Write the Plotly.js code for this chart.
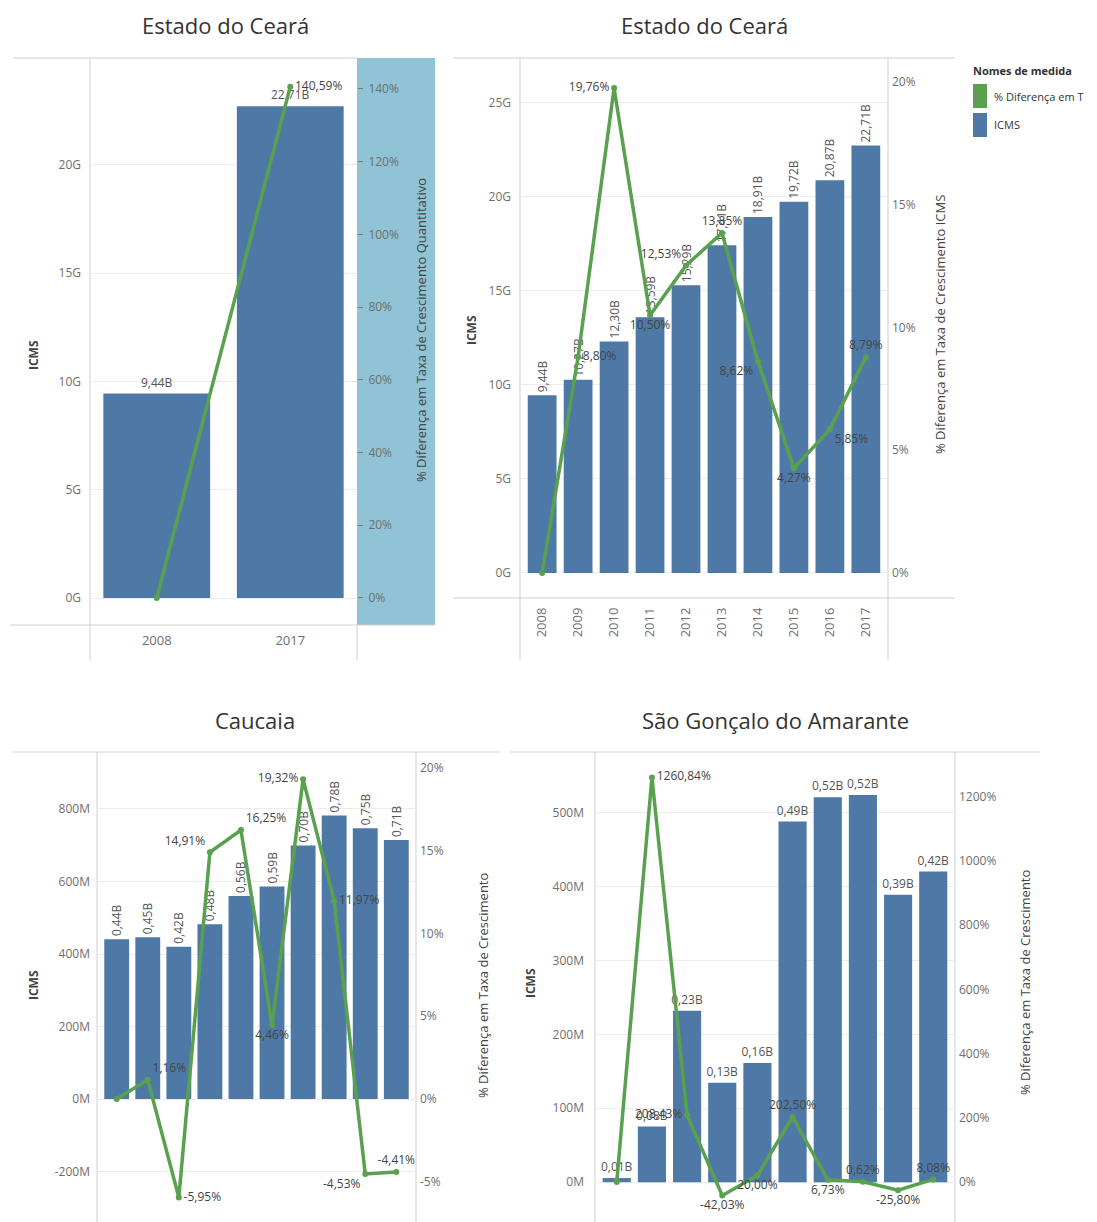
<!DOCTYPE html>
<html><head><meta charset="utf-8">
<script src="https://cdn.plot.ly/plotly-3.0.1.min.js"></script>
<style>html,body{margin:0;padding:0;background:#fff}#chart{width:1097px;height:1222px}</style>
</head><body><div id="chart"></div>
<script>
// ---------- DATA ----------
const yearsA = ['2008', '2017'];
const icmsCearaA = [9.44, 22.71];            // G
const difCearaA = [0, 140.59];               // %

const years = ['2008','2009','2010','2011','2012','2013','2014','2015','2016','2017'];
const icmsCeara = [9.44, 10.27, 12.30, 13.59, 15.29, 17.41, 18.91, 19.72, 20.87, 22.71]; // G
const difCeara = [0, 8.80, 19.76, 10.50, 12.53, 13.85, 8.62, 4.27, 5.85, 8.79];          // %

const icmsCaucaia = [441, 446, 420, 482, 560, 586, 699, 782, 747, 714];                   // M
const difCaucaia = [0, 1.16, -5.95, 14.91, 16.25, 4.46, 19.32, 11.97, -4.53, -4.41];       // %

const icmsSGA = [5.5, 75.2, 232, 134.5, 161.4, 488.3, 521.1, 524.4, 389.1, 420.5];        // M
const difSGA = [0, 1260.84, 208.43, -42.03, 20.00, 202.50, 6.73, 0.62, -25.80, 8.08];      // %

const ticksG1 = [0, 5, 10, 15, 20];
const ticksPct1 = [0, 20, 40, 60, 80, 100, 120, 140];
const ticksG2 = [0, 5, 10, 15, 20, 25];
const ticksPct2 = [0, 5, 10, 15, 20];
const ticksM3 = [-200, 0, 200, 400, 600, 800];
const ticksPct3 = [-5, 0, 5, 10, 15, 20];
const ticksM4 = [0, 100, 200, 300, 400, 500];
const ticksPct4 = [0, 200, 400, 600, 800, 1000, 1200];

const titleA = 'Estado do Ceará';
const titleB = 'Estado do Ceará';
const titleC = 'Caucaia';
const titleD = 'São Gonçalo do Amarante';
const legendTitle = 'Nomes de medida';
const legendItems = ['% Diferença em T', 'ICMS'];

// ---------- HELPERS ----------
const W = 1097, H = 1222;
const px = x => x / W;
const py = y => 1 - y / H;
const fmt = v => v.toFixed(2).replace('.', ',');
const BLUE = '#4e79a7', GREEN = '#59a14f';
const FONT = 'Open Sans, Noto Sans, sans-serif';
const tickFont = {family: FONT, size: 12, color: '#6e6e6e'};
const lblFont = {family: FONT, size: 12, color: '#444'};
const pctText = arr => arr.map((v, i) => i === 0 ? '' : fmt(v) + '%');

function barTrace(x, y, text, xa, ya, angle) {
  return {type: 'bar', x, y, text, xaxis: xa, yaxis: ya, marker: {color: BLUE},
    textposition: 'outside', textangle: angle, constraintext: 'none', cliponaxis: false,
    textfont: {family: FONT, size: 12, color: '#555'}, showlegend: false, hoverinfo: 'skip'};
}
function lineTrace(x, y, pos, xa, ya) {
  return {type: 'scatter', mode: 'lines+markers+text', x, y, text: pctText(y), textposition: pos,
    xaxis: xa, yaxis: ya, line: {color: GREEN, width: 3.5}, marker: {color: GREEN, size: 6},
    textfont: lblFont, cliponaxis: false, showlegend: false, hoverinfo: 'skip'};
}

const traces = [
  barTrace(yearsA, icmsCearaA, icmsCearaA.map(v => fmt(v) + 'B'), 'x', 'y', 0),
  lineTrace(yearsA, difCearaA, ['middle right', 'middle right'], 'x', 'y2'),
  barTrace(years, icmsCeara, icmsCeara.map(v => fmt(v) + 'B'), 'x2', 'y3', -90),
  lineTrace(years, difCeara, ['top center','middle right','middle left','bottom center','top left','top center','bottom left','bottom center','bottom right','top center'], 'x2', 'y4'),
  barTrace(years, icmsCaucaia, icmsCaucaia.map(v => fmt(v / 1000) + 'B'), 'x3', 'y5', -90),
  lineTrace(years, difCaucaia, ['top center','top right','middle right','top left','top right','bottom center','middle left','middle right','bottom left','top center'], 'x3', 'y6'),
  barTrace(years, icmsSGA, icmsSGA.map(v => fmt(v / 1000) + 'B'), 'x4', 'y7', 0),
  lineTrace(years, difSGA, ['top center','middle right','middle left','bottom center','bottom center','top center','bottom center','top center','bottom center','top center'], 'x4', 'y8')
];

function xax(d, anchor, showlabels, angle) {
  return {domain: [px(d[0]), px(d[1])], anchor, type: 'category', showgrid: false, zeroline: false,
    showline: false, ticks: '', showticklabels: showlabels, tickangle: angle, tickfont: {family: FONT, size: 13, color: '#6e6e6e'},
    ticklabelstandoff: 6, fixedrange: true};
}
function yleft(d, anchor, range, vals, suffix, gap) {
  return {domain: [py(d[1]), py(d[0])], anchor, range, tickvals: vals, ticktext: vals.map(v => v + suffix),
    showgrid: true, gridcolor: '#ececec', zeroline: false, showline: false, ticks: '', tickfont: tickFont,
    ticklabelstandoff: gap, fixedrange: true};
}
function yright(over, anchor, range, vals, ticks) {
  return {overlaying: over, side: 'right', anchor, range, tickvals: vals, ticktext: vals.map(v => v + '%'),
    showgrid: false, zeroline: false, showline: false, ticks: ticks ? 'outside' : '', ticklen: 5, tickcolor: '#777',
    tickfont: tickFont, ticklabelstandoff: 3, fixedrange: true};
}

const layout = {
  width: W, height: H, margin: {l: 0, r: 0, t: 0, b: 0}, paper_bgcolor: '#fff', plot_bgcolor: 'rgba(0,0,0,0)',
  showlegend: false, bargap: 0.2,
  xaxis: xax([90, 357], 'y', true, 0),
  yaxis: yleft([58, 625], 'x', [-1.247, 24.94], ticksG1, 'G', 8),
  yaxis2: yright('y', 'x', [-7.43, 148.5], ticksPct1, true),
  xaxis2: xax([520, 888], 'y3', true, -90),
  yaxis3: yleft([58, 598], 'x2', [-1.33, 27.36], ticksG2, 'G', 8),
  yaxis4: yright('y3', 'x2', [-1.02, 20.98], ticksPct2, false),
  xaxis3: xax([97, 416], 'y5', false, 0),
  yaxis5: yleft([752, 1222], 'x3', [-339, 957], ticksM3, 'M', 6),
  yaxis6: yright('y5', 'x3', [-7.43, 20.97], ticksPct3, false),
  xaxis4: xax([595, 955], 'y7', false, 0),
  yaxis7: yleft([752, 1222], 'x4', [-54, 582.5], ticksM4, 'M', 10),
  yaxis8: yright('y7', 'x4', [-124.7, 1340], ticksPct4, false),
  shapes: [],
  annotations: []
};

const lineCol = '#cfcfcf';
function hl(x0, x1, y) { layout.shapes.push({type: 'line', xref: 'paper', yref: 'paper', x0: px(x0), x1: px(x1), y0: py(y), y1: py(y), line: {color: lineCol, width: 1}, layer: 'below'}); }
function vl(x, y0, y1) { layout.shapes.push({type: 'line', xref: 'paper', yref: 'paper', x0: px(x), x1: px(x), y0: py(y0), y1: py(y1), line: {color: lineCol, width: 1}, layer: 'below'}); }

// band behind right axis of first panel
layout.shapes.push({type: 'rect', xref: 'paper', yref: 'paper', x0: px(357), x1: px(435), y0: py(625), y1: py(58), fillcolor: '#8fc3d5', line: {width: 0}, layer: 'below'});
hl(13, 357, 58); hl(10, 435, 625); vl(90, 58, 660); vl(357, 625, 660);
hl(453, 955, 58); hl(453, 955, 598); vl(520, 58, 660); vl(888, 58, 660);
hl(13, 500, 752); vl(97, 752, 1222); vl(416, 752, 1222);
hl(510, 1040, 752); vl(595, 752, 1222); vl(955, 752, 1222);

function ann(text, x, y, size, color, angle, opts) {
  layout.annotations.push(Object.assign({text, xref: 'paper', yref: 'paper', x: px(x), y: py(y), showarrow: false,
    xanchor: 'center', yanchor: 'middle', textangle: angle || 0, font: {family: FONT, size, color}}, opts || {}));
}
ann(titleA, 225, 25, 22, '#333');
ann(titleB, 705, 25, 22, '#333');
ann(titleC, 255, 720, 22, '#333');
ann(titleD, 775, 720, 22, '#333');
ann('<b>ICMS</b>', 33, 355, 12, '#444', -90);
ann('<b>ICMS</b>', 472, 330, 12, '#444', -90);
ann('<b>ICMS</b>', 33, 985, 12, '#444', -90);
ann('<b>ICMS</b>', 530, 983, 12, '#444', -90);
ann('% Diferença em Taxa de Crescimento Quantitativo', 421, 330, 13, '#444', -90);
ann('% Diferença em Taxa de Crescimento ICMS', 940, 325, 13, '#444', -90);
ann('% Diferença em Taxa de Crescimento', 483, 985, 13, '#444', -90);
ann('% Diferença em Taxa de Crescimento', 1025, 982, 13, '#444', -90);

// legend
ann('<b>' + legendTitle + '</b>', 971, 70, 11, '#333', 0, {xanchor: 'left'});
layout.shapes.push({type: 'rect', xref: 'paper', yref: 'paper', x0: px(973), x1: px(987), y0: py(108), y1: py(84), fillcolor: GREEN, line: {width: 0}});
layout.shapes.push({type: 'rect', xref: 'paper', yref: 'paper', x0: px(973), x1: px(987), y0: py(137), y1: py(113), fillcolor: BLUE, line: {width: 0}});
ann(legendItems[0], 992, 96, 11, '#333', 0, {xanchor: 'left'});
ann(legendItems[1], 992, 125, 11, '#333', 0, {xanchor: 'left'});

Plotly.newPlot('chart', traces, layout, {staticPlot: true});
</script>
</body></html>
